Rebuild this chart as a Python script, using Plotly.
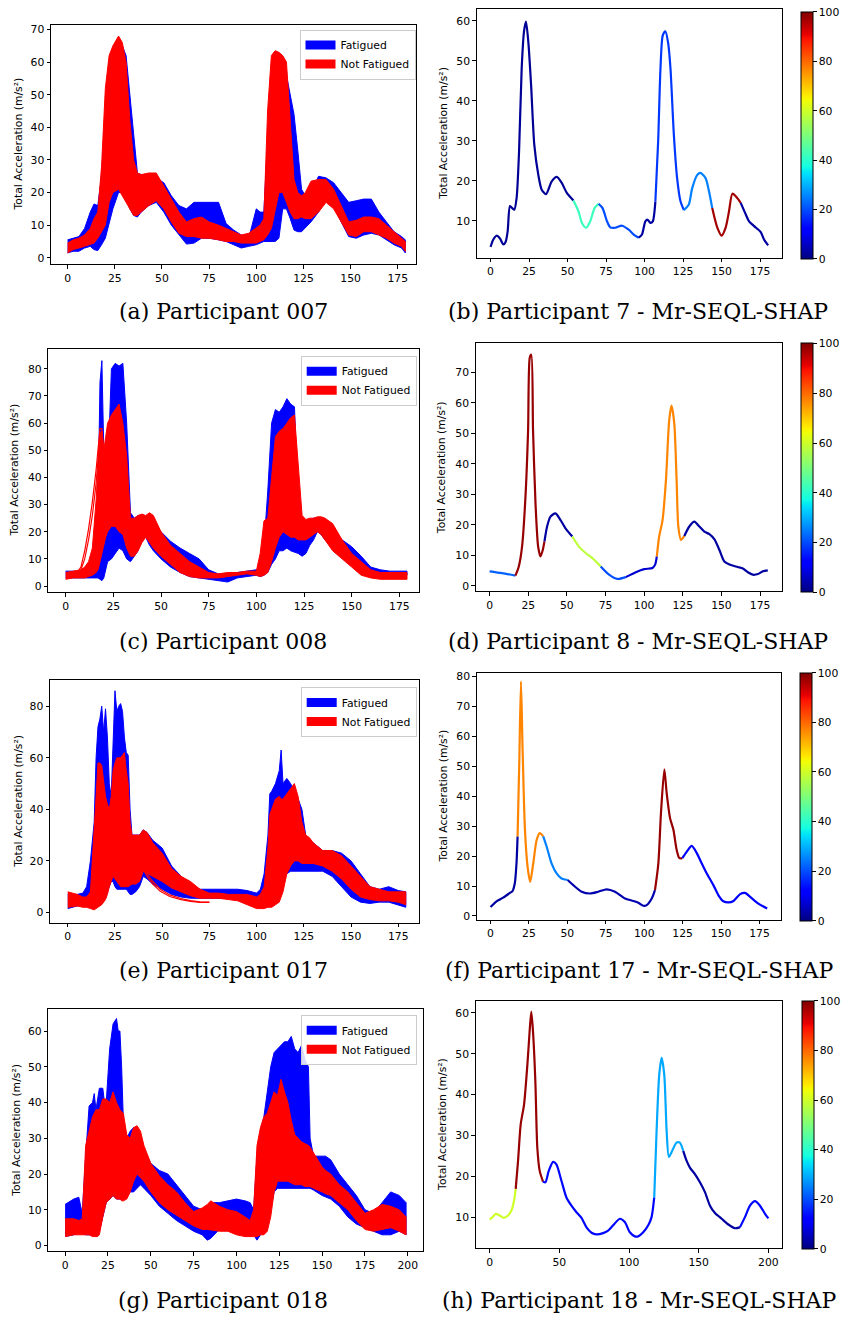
import numpy as np
import plotly.graph_objects as go

W, H = 845, 1321

# ---------------- Left column: envelopes of the overlaid samples ----------------
# (a) Participant 007
x_a = [0, 3, 6, 9, 12, 14, 16, 18, 20, 22, 24, 27, 29, 31, 33, 35, 37, 39, 43, 47,
       51, 55, 59, 63, 67, 71, 75, 80, 84, 88, 92, 96, 100, 102, 104, 106, 108, 110, 112, 114,
       116, 118, 120, 122, 124, 126, 129, 133, 137, 141, 145, 149, 153, 157, 161, 165, 169, 173, 177, 179]
fat_hi_a = [5.5, 6, 6.5, 9, 14, 16.5, 16, 25, 45, 60, 64, 66, 65, 62, 50, 37, 26, 25.5, 25, 24.5,
            23, 19, 16, 15, 17, 17, 17, 17, 10.5, 8.5, 7, 6, 15, 14, 14, 35, 58, 61, 61, 60,
            56, 50, 44, 33, 21, 19, 20, 25, 24.5, 23, 20, 17, 17.5, 18, 18, 14, 11, 8, 6.5, 5.5]
fat_lo_a = [1.5, 2, 2, 3, 3.5, 2.5, 2.2, 4, 6, 10, 15, 20, 20, 18, 15, 13, 12.5, 14, 16, 17,
            14, 10, 7, 4.2, 4.5, 6, 6, 5.5, 5, 4, 3, 3.5, 4, 4.5, 5, 5, 5, 5, 6, 15,
            15, 12, 8.5, 8, 8, 9, 11, 14, 18, 16, 11, 6.5, 6, 7, 7.5, 7, 5.5, 4, 3, 1.5]
nf_hi_a = [4.5, 5.5, 6, 7, 9, 12, 14, 28, 52, 62, 65, 68, 66, 60, 42, 30, 26, 25.5, 26, 26,
           22, 18, 14, 11, 12, 12.5, 11, 10, 9, 8, 7, 7.5, 9, 10, 12, 45, 62, 63.5, 63, 62,
           60, 42, 24, 20, 19, 20, 23.5, 24, 24, 21, 16, 11, 11.5, 12.5, 12.5, 12, 10, 8, 6, 5]
nf_lo_a = [1.5, 2.5, 3, 3.5, 4, 4.5, 6, 8, 10, 17, 20, 21, 19, 17, 15, 13, 13, 14, 16, 17.5,
           15, 11, 7.5, 6.5, 6.5, 6, 6, 5.5, 5, 5, 4.5, 4.5, 4.5, 5, 5.5, 7, 9, 14, 20, 20,
           17, 14, 12, 12, 12.5, 12, 12, 14, 17, 15, 11, 7, 6.5, 8, 8, 7, 6, 4.5, 3.5, 2]

# (c) Participant 008
x_c = [0, 4, 8, 10, 12, 14, 16, 17, 18, 19, 20, 21, 22, 24, 26, 28, 30, 32, 34, 36,
       38, 40, 42, 44, 46, 50, 55, 60, 65, 70, 75, 80, 85, 90, 95, 100, 102, 104, 106, 108,
       110, 112, 114, 116, 118, 120, 122, 124, 126, 128, 130, 132, 134, 136, 140, 145, 150, 155, 160, 165,
       170, 175, 179]
fat_hi_c = [5.5, 5.5, 5.5, 5, 5, 5, 6, 30, 75, 83, 50, 40, 40, 80, 82, 81, 82, 60, 27, 25,
            26, 26, 25, 25, 24, 20, 16.5, 14, 12, 10, 6, 4.5, 4.5, 5, 5.5, 6, 7, 15, 35, 60,
            65, 64, 66, 69, 67, 66, 30, 24, 24, 24, 25, 25, 24, 23, 20, 17, 14.5, 11, 7, 6,
            5.5, 5.5, 5.5]
fat_lo_c = [3, 3, 3, 3, 3, 3, 3, 3, 2.5, 2, 3, 6, 9, 10, 12, 14, 13, 10, 9, 11,
            13, 18, 18, 15, 13, 10, 7, 5, 3.5, 3, 2.5, 2, 1.5, 3, 3.5, 4, 3.5, 4, 5, 8,
            10, 13, 13, 14, 13, 12.5, 12, 11, 12, 15, 17, 20, 19, 17, 14, 12, 9, 6, 4.5, 4,
            4, 4, 4]
nf_hi_c = [5, 5.5, 6, 7, 9, 14, 32, 45, 55, 57, 50, 55, 60, 63, 65, 67, 60, 48, 25, 25,
           26, 26.5, 26, 27, 26, 20, 15, 12, 9, 7, 5, 4.5, 5, 5, 5.5, 5.5, 12, 24, 25, 40,
           55, 57, 58, 60, 62, 63, 45, 26, 24.5, 25, 25, 25.5, 25.5, 25, 23, 17, 12, 9, 6, 5,
           5, 5, 5]
nf_lo_c = [2.5, 3, 3, 3, 3.5, 4, 5, 6, 8, 12, 15, 18, 20, 22, 22, 20, 19, 14, 11, 11,
           13, 16, 18, 16, 14, 11, 8, 5, 3.5, 3, 3, 3, 3.5, 4, 4.5, 4, 3.5, 4, 5, 9,
           14, 18, 20, 19, 18, 18, 17, 17, 17, 18, 19, 20, 19, 17, 13, 10, 7, 4, 3, 2.5,
           2.5, 2.5, 2.5]
# a few "not fatigued" samples that rise early, ahead of the bundle (c)
early_x_c = [6, 8, 10, 12, 14, 16, 18, 19, 20]
early_y1_c = [5, 7, 13, 21, 31, 43, 58, 58, 50]
early_y2_c = [5, 6, 10, 17, 26, 38, 56, 57, 48]

# (e) Participant 017
x_e = [0, 5, 8, 10, 12, 14, 15, 16, 17, 18, 19, 20, 21, 22, 23, 24, 25, 26, 27, 28,
       29, 30, 31, 32, 33, 34, 36, 38, 40, 42, 45, 50, 55, 60, 65, 70, 75, 80, 85, 90,
       95, 100, 102, 104, 106, 107, 108, 110, 112, 113, 114, 116, 118, 120, 122, 124, 126, 128, 130, 135,
       140, 145, 150, 155, 160, 165, 170, 175, 179]
fat_hi_e = [7, 7, 7.5, 10, 20, 35, 60, 72, 75, 80, 70, 79, 68, 50, 45, 70, 86, 78, 80, 81,
            78, 68, 62, 61, 40, 30, 30, 30, 32, 31, 28, 25, 18, 14, 11, 9, 9, 9, 9, 9,
            8.5, 7.5, 9, 15, 30, 46, 47, 50, 55, 63, 50, 52, 50, 47, 44, 40, 30, 28, 27, 24,
            24, 23, 20, 15, 10, 9, 10, 8.5, 8]
fat_lo_e = [1.5, 2.5, 3, 4, 5, 5, 5, 5, 5, 5, 5, 6, 8, 10, 12, 12, 10, 9, 9, 9,
            9, 9, 9, 8, 7, 7, 8, 10, 14, 13, 11, 9, 7, 6, 5.5, 5.5, 5.5, 5.5, 5.5, 5.5,
            5.5, 6, 6, 5, 5, 5, 5, 6, 8, 10, 12, 15, 16, 16, 16, 16, 16, 16, 16, 16,
            14, 10, 6, 4, 3.5, 4, 4, 3, 2]
nf_hi_e = [8, 7, 6, 6, 8, 30, 45, 58, 58, 57, 50, 45, 42, 40, 45, 55, 58, 60, 60, 60,
           61, 62, 55, 50, 35, 30, 30, 30, 32, 31, 27, 23, 17, 14, 12, 9, 7.5, 7.5, 7, 7,
           7, 6, 7, 10, 25, 38, 40, 44, 45, 44, 44, 46, 48, 50, 45, 35, 30, 29, 27, 24,
           24, 22, 18, 14, 10, 9, 8, 8, 8]
nf_lo_e = [2, 2.5, 2, 2, 1.5, 1, 1.5, 2, 2.5, 3, 4, 5, 7, 10, 12, 14, 13, 12, 11, 10,
           10, 10, 10, 10, 10.5, 11, 11, 12, 16, 15, 14, 12, 9.5, 8, 6.5, 5.5, 5.5, 5.5, 5, 4.5,
           3, 1.5, 1.5, 1.5, 2, 2, 2, 3, 4, 6, 8, 15, 18, 20, 20, 19, 19, 19, 19, 18,
           16, 13, 9, 6, 5, 4.5, 4.5, 4, 3]
# two isolated "not fatigued" samples running below the bundle (e)
out_x_e = [39, 42, 45, 49, 54, 60, 65, 70, 75]
out_y1_e = [19, 15, 12, 9, 6.8, 5.4, 4.6, 4.1, 4.0]
out_y2_e = [18, 14, 11, 8.2, 6.2, 5.0, 4.3, 3.9, 3.9]

# (g) Participant 018
x_g = [0, 5, 8, 10, 12, 14, 16, 17, 18, 19, 20, 22, 23, 24, 26, 28, 30, 31, 32, 33,
       34, 36, 38, 40, 42, 44, 46, 50, 55, 60, 65, 70, 75, 80, 83, 85, 90, 95, 100, 105,
       108, 110, 112, 114, 116, 118, 120, 122, 124, 126, 128, 130, 132, 134, 136, 138, 140, 142, 143, 145,
       150, 152, 155, 160, 165, 170, 175, 180, 185, 190, 195, 199]
fat_hi_g = [11.5, 13, 13.5, 9, 25, 39, 40, 42.5, 38, 41, 44, 44, 40, 40, 55, 62, 63.5, 60, 60, 50,
            35, 30, 32, 33, 33, 30, 27, 23, 21, 20, 17, 14, 11, 10, 11, 12, 12, 12.5, 13, 12.5,
            12, 10, 25, 32, 36, 43, 50, 54, 55, 56, 57, 57, 58.5, 55, 54, 56, 52, 50, 30, 25,
            25, 25, 24, 20, 17, 14, 10, 9, 12, 15, 14, 12]
fat_lo_g = [2.5, 3, 3.5, 3.5, 3, 3, 3, 3, 3, 3, 4, 8, 10, 12, 13, 14, 13, 13, 13, 13,
            14, 15, 15, 15, 16, 17, 16, 14, 11, 9, 7, 5.5, 4, 3, 1.5, 2, 4.5, 4.5, 4.5, 4,
            3, 3, 1.5, 3, 4, 6, 10, 15, 16, 16, 16, 16, 16, 16, 16, 16, 16, 16, 16, 15.5,
            14, 13.5, 13, 11, 8, 6, 5, 4, 3, 3, 4, 3]
nf_hi_g = [7.5, 7.5, 7, 7.5, 28, 32, 36, 37, 38, 38, 38, 41, 41, 41, 40, 43, 40, 39, 38, 37.5,
           37, 31, 30, 33, 33.5, 32, 28, 23, 19.5, 17, 15, 12, 9.5, 10.5, 11.5, 12.5, 11, 10, 9.5, 8,
           7, 10, 28, 33, 36, 37, 40, 43, 42, 46.5, 43, 40, 35, 31, 30, 29, 28.5, 28, 27.5, 26,
           22, 21, 20, 17, 15, 12, 9, 10, 11.5, 11, 10, 8]
nf_lo_g = [2.5, 3, 3, 3, 3, 3, 2.5, 2.5, 2.5, 2.5, 3, 8, 10, 12, 13, 14, 13, 13, 13, 12.5,
           12.5, 13, 15, 18, 20, 19, 18, 15, 12, 10, 8.5, 7, 5.5, 4.5, 4.5, 4.5, 4, 4, 3, 2.5,
           2.5, 2.5, 2.5, 3, 3, 4, 8, 15, 18, 18, 18, 18, 17.5, 17, 17, 17, 16.5, 16.5, 16.5, 16,
           15, 14.5, 14, 12, 10, 7, 4.5, 4, 4.5, 5, 4, 3]

# ---------------- Right column: one sample, coloured by SHAP relevance ----------------
x_b = [0, 1.7, 3.9, 6.1, 8.3, 9.8, 11.1, 12.6, 14.1, 15.4, 16.9, 18.5, 20.2, 21.7, 23, 24.5, 26.3, 28.4, 31, 33.2,
       36, 39.7, 43, 46.2, 49.5, 53.8, 57.1, 59.3, 62.1, 64.7, 67.5, 70.1, 72.7, 75.6, 77.7, 81, 85.3, 89.7, 92.9, 96.2,
       98.3, 100.5, 102, 103.8, 105.3, 107, 108.8, 110.3, 111.8, 113.5, 115.3, 116.8, 119, 121.1, 123.3, 125.5, 128.7, 130.9, 134.2, 136.3,
       139.6, 141.8, 143.9, 147.2, 150, 152.6, 154.8, 157, 160.2, 162.4, 165.7, 167.8, 171.1, 175.4, 177.6, 180.2]
y_b = [3.5, 5.3, 6.3, 5.6, 4.1, 4.8, 7.4, 13.7, 13.2, 12.8, 15.7, 27.4, 48.1, 57.3, 59.8, 54.8, 44, 29, 21.5, 17.8,
       16.7, 19.9, 21, 19.5, 17, 15.1, 12.4, 9.5, 8.3, 9.9, 13.2, 14.3, 13.2, 9.9, 8.4, 8.3, 8.8, 7.8, 6.6, 5.8,
       6.6, 9.9, 10.3, 9.5, 9.9, 14.9, 29.9, 48.1, 56.4, 57.4, 54.4, 48.1, 31.5, 20.7, 14.9, 12.7, 14.1, 18.2, 21.5, 22,
       20.7, 17.4, 13.2, 8.3, 6.3, 8.3, 12.4, 16.8, 15.7, 14.5, 11.6, 9.9, 8.7, 7.2, 5.3, 3.9]
seg_start_b = [0, 53.8, 70.1, 96.2, 107, 125.5, 143.9, 162.4]
seg_shap_b = [2, 42, 20, 3, 18, 25, 97, 3]

x_d = [0, 8, 16.7, 18.8, 21, 23.2, 24.9, 26, 27, 28.1, 29.7, 31.4, 32.9, 34.4, 35.5, 37.2, 39.4, 42.6, 45.9, 49.1,
       53.5, 57.8, 62.1, 66.5, 71.9, 77.3, 82.7, 88.1, 94.6, 100, 105.4, 107.1, 108.2, 109.7, 111.9, 114.1, 116.2, 117.7, 119.5, 121,
       122.1, 123.8, 126, 129.2, 132.5, 135.7, 139, 142.2, 145.5, 148.7, 151.9, 155.2, 160.6, 163.9, 167.1, 170.3, 173.6, 176.8, 180]
y_d = [4.8, 4.2, 3.4, 6.2, 12.9, 29.2, 51, 74.9, 75.8, 51, 27, 12.9, 9.7, 11.8, 14.6, 19.5, 22.7, 23.8, 21.6, 18.9,
       16.2, 12.9, 10.8, 9.1, 6.4, 3.7, 2.3, 2.9, 4.5, 5.5, 5.9, 7, 9.7, 16.2, 21.6, 34.7, 54.2, 59.1, 53.2, 34.7,
       19.5, 15.1, 16.4, 19.5, 21.1, 19.5, 17.8, 17, 15.3, 11.8, 8, 7, 6.2, 5.7, 4.5, 3.7, 3.9, 4.8, 5.1]
seg_start_d = [0, 16.7, 35.5, 53.5, 71.9, 88.1, 108.2, 126]
seg_shap_d = [22, 98, 3, 58, 20, 7, 77, 3]

x_f = [0, 3.9, 8.2, 12.6, 14.3, 15.8, 16.9, 17.6, 18.7, 19.8, 20.8, 22.4, 24.1, 25.8, 27.8, 30, 32.1, 34.3, 36.5, 39.7,
       43, 46.2, 50.2, 53.8, 59.3, 64.7, 70.1, 75.6, 81, 87.5, 92.9, 96.2, 99.4, 101.6, 104.9, 107, 109.2, 110.9, 113.1, 114.6,
       116.8, 119, 121.1, 122.9, 124.8, 127.7, 130.9, 134.2, 137.4, 140.7, 145, 148.3, 151.5, 154.8, 158.1, 162.4, 165.6, 168.9, 174.3, 180]
y_f = [3, 4.9, 6.1, 7.7, 8.3, 10.9, 17.6, 26.6, 51.2, 78.4, 56.8, 28.8, 16.5, 11.4, 17.6, 25.4, 27.7, 26.6, 23.2, 17.6,
       14.2, 12.5, 12, 10.3, 8.1, 7.5, 8.1, 8.9, 8.1, 5.8, 5, 4.4, 3.4, 3.6, 5.8, 8.6, 17.6, 34.4, 49, 41.1,
       32.7, 28.8, 22.1, 19.3, 19.3, 21.5, 23.4, 21, 17.6, 14.2, 10.3, 6.9, 4.9, 4.5, 5, 7.3, 7.7, 6.4, 4.1, 2.5]
seg_start_f = [0, 17.6, 34.3, 50.2, 107, 124.8]
seg_shap_f = [3, 77, 25, 4, 98, 12]

x_h = [0, 2.4, 4.3, 7.2, 10.1, 13.2, 15.6, 17.5, 18.7, 20.4, 22.3, 24.7, 27.1, 28.7, 29.9, 31.1, 32.8, 34.2, 35.9, 38.3,
       40, 42.4, 45.5, 47.9, 51.5, 55.1, 58.7, 62.3, 65.9, 69.5, 73.1, 76.6, 81.4, 85, 88.6, 93.4, 97, 100.6, 104.2, 106.6,
       110.2, 113.8, 116.2, 118.1, 119.8, 121.7, 123.4, 125.3, 127, 128.6, 131, 134.1, 136.5, 138.9, 141.3, 143.7, 147.3, 150.9, 154.5, 158.1,
       161.7, 166.5, 171.3, 176, 179.6, 183.2, 186.8, 190.4, 194, 197.6, 200]
y_h = [9.5, 10.2, 10.9, 10.5, 9.9, 10.5, 11.7, 14.1, 17, 23.9, 32.8, 37.6, 47.4, 55.5, 60.3, 55.5, 43.3, 27.1, 21.4, 18.8,
       18.6, 21.4, 23.6, 23, 19, 14.9, 12.9, 11.3, 9.9, 7.6, 6.3, 5.9, 6.2, 6.8, 8.1, 9.7, 8.9, 6.4, 5.4, 5.4,
       6.4, 8.1, 10.1, 14.9, 31.2, 44.9, 49, 44.9, 31.2, 24.8, 26.3, 28.3, 28.3, 26.3, 23.9, 22.2, 20.6, 18.6, 16.2, 12.9,
       11.1, 9.7, 8.3, 7.4, 7.6, 10.1, 12.9, 14, 12.9, 10.9, 9.8]
seg_start_h = [0, 18.7, 38.3, 118.1, 138.9, 179.6]
seg_shap_h = [60, 98, 13, 29, 3, 13]

captions = ["(a) Participant 007", "(b) Participant 7 - Mr-SEQL-SHAP",
            "(c) Participant 008", "(d) Participant 8 - Mr-SEQL-SHAP",
            "(e) Participant 017", "(f) Participant 17 - Mr-SEQL-SHAP",
            "(g) Participant 018", "(h) Participant 18 - Mr-SEQL-SHAP"]
legend_names = ["Fatigued", "Not Fatigued"]
y_title = "Total Acceleration (m/s²)"

# ---------------- styling helpers ----------------
def mpl_jet(v):
    r = np.interp(v, [0, 0.35, 0.66, 0.89, 1], [0, 0, 1, 1, 0.5])
    g = np.interp(v, [0, 0.125, 0.375, 0.64, 0.91, 1], [0, 0, 1, 1, 0, 0])
    b = np.interp(v, [0, 0.11, 0.34, 0.65, 1], [0.5, 1, 1, 0, 0])
    return "rgb(%d,%d,%d)" % (round(r * 255), round(g * 255), round(b * 255))

JET_STOPS = [0, 0.11, 0.125, 0.34, 0.35, 0.375, 0.64, 0.65, 0.66, 0.89, 0.91, 1]
JET = [[s, mpl_jet(s)] for s in JET_STOPS]

def fx(v):
    return min(1.0, max(0.0, v / W))

def fy(v):
    return min(1.0, max(0.0, 1 - v / H))

FONT = "DejaVu Sans"
TICK_FS = 10.8

panels = [
    dict(box=(51, 22.7, 415.7, 263.3), xr=[-8.8, 184.5], yr=[-2.0, 71.5], xt=list(range(0, 176, 25)), yt=list(range(0, 71, 10)), tx=18),
    dict(box=(476.7, 7.3, 781.7, 256.7), xr=[-9, 189], yr=[0.8, 62.9], xt=list(range(0, 176, 25)), yt=list(range(10, 61, 10)), tx=443.3),
    dict(box=(48.3, 348.3, 419, 592.3), xr=[-9.1, 185.3], yr=[-2.2, 87.3], xt=list(range(0, 176, 25)), yt=list(range(0, 81, 10)), tx=15),
    dict(box=(475.7, 342.7, 781.7, 591.7), xr=[-9, 189], yr=[-1.8, 79.5], xt=list(range(0, 176, 25)), yt=list(range(0, 71, 10)), tx=441.7),
    dict(box=(50, 681, 419, 924), xr=[-9.4, 186], yr=[-3.9, 90], xt=list(range(0, 176, 25)), yt=list(range(0, 81, 20)), tx=18.3),
    dict(box=(476.7, 673.3, 781, 921), xr=[-9, 189], yr=[-1.2, 81.3], xt=list(range(0, 176, 25)), yt=list(range(0, 81, 10)), tx=443.3),
    dict(box=(48.3, 1010.7, 422.7, 1254), xr=[-9.8, 208.7], yr=[-1.6, 66.2], xt=list(range(0, 201, 25)), yt=list(range(0, 61, 10)), tx=15.7),
    dict(box=(475.7, 1002.7, 782.3, 1251), xr=[-10, 210], yr=[2.5, 62.9], xt=list(range(0, 201, 50)), yt=list(range(10, 61, 10)), tx=442.3),
]
colorbars = [(800.7, 10, 256.7), (800.7, 342.7, 591.7), (800, 673.3, 921), (801.7, 1002.7, 1251)]
legend_boxes = [(415.5, 27.7), (416.7, 355), (416.7, 687.7), (416.7, 1016.7)]
caption_pos = [(223, 311), (638, 311), (223, 642), (638, 642), (223, 972), (639, 972), (223, 1303), (639, 1303)]

fig = go.Figure()
layout = dict(width=W, height=H, margin=dict(l=0, r=0, t=0, b=0, pad=0), autosize=False,
              paper_bgcolor="white", plot_bgcolor="white", showlegend=True,
              font=dict(family=FONT, size=TICK_FS, color="black"), hovermode=False)
annotations = []

for i, p in enumerate(panels):
    n = i + 1
    sx = "" if n == 1 else str(n)
    l, t, r, b = p["box"]
    axis_common = dict(ticks="outside", ticklen=3.5, tickwidth=1, tickcolor="black",
                       showline=True, mirror=True, linecolor="black", linewidth=1,
                       showgrid=False, zeroline=False, tickfont=dict(size=TICK_FS, family=FONT))
    layout["xaxis" + sx] = dict(domain=[fx(l), fx(r)], range=p["xr"], anchor="y" + sx,
                                tickvals=p["xt"], **axis_common)
    layout["yaxis" + sx] = dict(domain=[fy(b), fy(t)], range=p["yr"], anchor="x" + sx,
                                tickvals=p["yt"], **axis_common)
    annotations.append(dict(text=y_title, x=fx(p["tx"]), y=fy((t + b) / 2), xref="paper", yref="paper",
                            textangle=-90, showarrow=False, xanchor="center", yanchor="middle",
                            font=dict(size=TICK_FS, family=FONT, color="black")))

def band(x, hi, lo, color, n):
    sx = "" if n == 1 else str(n)
    fig.add_trace(go.Scatter(x=list(x) + list(x)[::-1], y=list(hi) + list(lo)[::-1],
                             mode="lines", fill="toself", fillcolor=color,
                             line=dict(color=color, width=1), showlegend=False,
                             hoverinfo="skip", xaxis="x" + sx, yaxis="y" + sx))

def thin(x, y, color, n):
    sx = "" if n == 1 else str(n)
    fig.add_trace(go.Scatter(x=x, y=y, mode="lines", line=dict(color=color, width=1.2),
                             showlegend=False, hoverinfo="skip", xaxis="x" + sx, yaxis="y" + sx))

left_sets = [
    (1, x_a, fat_hi_a, fat_lo_a, nf_hi_a, nf_lo_a),
    (3, x_c, fat_hi_c, fat_lo_c, nf_hi_c, nf_lo_c),
    (5, x_e, fat_hi_e, fat_lo_e, nf_hi_e, nf_lo_e),
    (7, x_g, fat_hi_g, fat_lo_g, nf_hi_g, nf_lo_g),
]
for k, (n, x, fh, fl, nh, nl) in enumerate(left_sets):
    sx = "" if n == 1 else str(n)
    band(x, fh, fl, "#0000ff", n)
    band(x, nh, nl, "#ff0000", n)
    if n == 3:
        for yy in (early_y1_c, early_y2_c):
            thin(early_x_c, yy, "#ff0000", 3)
    if n == 5:
        for yy in (out_y1_e, out_y2_e):
            thin(out_x_e, yy, "#ff0000", 5)
    lg = "legend" if k == 0 else "legend%d" % (k + 1)
    for name, col in zip(legend_names, ["#0000ff", "#ff0000"]):
        fig.add_trace(go.Scatter(x=[None], y=[None], mode="lines", name=name,
                                 line=dict(color=col, width=9), legend=lg, showlegend=True,
                                 xaxis="x" + sx, yaxis="y" + sx))
    lx, ly = legend_boxes[k]
    layout[lg] = dict(x=fx(lx), y=fy(ly), xanchor="right", yanchor="top",
                      bgcolor="rgba(255,255,255,0.85)", bordercolor="#cccccc", borderwidth=1,
                      font=dict(size=TICK_FS, family=FONT, color="black"), tracegroupgap=0,
                      itemwidth=30)

right_sets = [(2, x_b, y_b, seg_start_b, seg_shap_b), (4, x_d, y_d, seg_start_d, seg_shap_d),
              (6, x_f, y_f, seg_start_f, seg_shap_f), (8, x_h, y_h, seg_start_h, seg_shap_h)]
for k, (n, xs, ys, st, sh) in enumerate(right_sets):
    sx = str(n)
    bounds = list(st) + [float("inf")]
    for s in range(len(sh)):
        idx = [j for j, xv in enumerate(xs) if bounds[s] <= xv <= bounds[s + 1]]
        fig.add_trace(go.Scatter(x=[xs[j] for j in idx], y=[ys[j] for j in idx], mode="lines",
                                 line=dict(color=mpl_jet(sh[s] / 100), width=2.2, shape="spline", smoothing=0.7),
                                 showlegend=False, hoverinfo="skip", xaxis="x" + sx, yaxis="y" + sx))
    cx, ct, cb = colorbars[k]
    fig.add_trace(go.Scatter(x=[None, None], y=[None, None], mode="markers", showlegend=False,
                             marker=dict(color=[0, 100], cmin=0, cmax=100, colorscale=JET, showscale=True,
                                         colorbar=dict(x=fx(cx), xanchor="left", y=fy(ct), yanchor="top",
                                                       len=cb - ct, lenmode="pixels", thickness=12,
                                                       thicknessmode="pixels", xpad=0, ypad=0,
                                                       outlinewidth=1, outlinecolor="black",
                                                       ticks="outside", ticklen=3.5, tickcolor="black",
                                                       tickvals=[0, 20, 40, 60, 80, 100],
                                                       tickfont=dict(size=TICK_FS, family=FONT))),
                             xaxis="x" + sx, yaxis="y" + sx))

for text, (cx, cy) in zip(captions, caption_pos):
    annotations.append(dict(text=text, x=fx(cx), y=fy(cy), xref="paper", yref="paper", showarrow=False,
                            xanchor="center", yanchor="middle",
                            font=dict(size=22, family="DejaVu Serif", color="black")))

layout["annotations"] = annotations
fig.update_layout(**layout)
# place the figure flush with the page corner (drop the browser's default body margin)
fig.write_html("out.html", config={"displayModeBar": False, "staticPlot": True},
               post_script="document.body.style.margin='0px';")
